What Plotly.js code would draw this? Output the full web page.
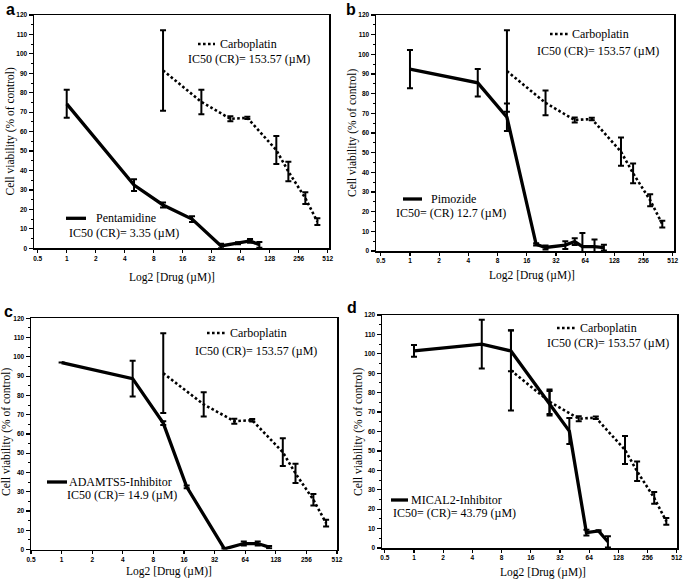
<!DOCTYPE html>
<html>
<head>
<meta charset="utf-8">
<script src="https://cdn.plot.ly/plotly-3.0.1.min.js"></script>
<style>html,body{margin:0;padding:0;background:#fff;}#chart{width:684px;height:579px;}</style>
</head>
<body>
<div id="chart"></div>
<script>
// ---------- data ----------
const xTickVals = [0.5, 1, 2, 4, 8, 16, 32, 64, 128, 256, 512];
const xTickText = ["0.5", "1", "2", "4", "8", "16", "32", "64", "128", "256", "512"];

const carboDose = [10, 25, 50, 75, 150, 200, 300, 400];
const carboViab = [91.5, 75.3, 66.6, 67.1, 50.5, 39.5, 25.8, 13.7];
const carboErr  = [20.7, 6.3, 1.3, 0.6, 7.2, 5.0, 3.0, 1.7];

const pentaDose = [1, 5, 10, 20, 40, 60, 80, 100];
const pentaViab = [74.3, 32.5, 22.3, 15.0, 1.2, 2.6, 3.8, 1.8];
const pentaErr  = [7.2, 3.0, 1.3, 1.5, 1.2, 0.5, 1.0, 1.5];

const pimoDose = [1, 5, 10, 20, 25, 40, 50, 60, 80, 100];
const pimoViab = [92.5, 85.5, 68.0, 3.4, 1.8, 3.0, 4.8, 2.2, 2.2, 1.7];
const pimoErr  = [9.7, 7.0, 7.0, 0.6, 1.0, 2.0, 1.7, 7.0, 3.7, 1.5];

const adamDose = [1, 5, 10, 17, 40, 62, 85, 110];
const adamViab = [97.0, 88.7, 65.6, 32.5, 0.3, 3.1, 3.1, 1.2];
const adamErr  = [0, 9.3, 1.0, 0.7, 0.3, 1.0, 1.0, 0.6];

const micalDose = [1, 5, 10, 25, 40, 60, 80, 100];
const micalViab = [101.5, 105.0, 101.5, 74.5, 60.2, 7.9, 8.8, 3.2];
const micalErr  = [3.0, 12.6, 10.5, 6.3, 6.7, 1.5, 0.3, 2.9];

const drugNames = ["Pentamidine", "Pimozide", "ADAMTS5-Inhibitor", "MICAL2-Inhibitor"];
const drugIC50  = ["IC50 (CR)= 3.35 (\u00b5M)", "IC50= (CR) 12.7 (\u00b5M)", "IC50 (CR)= 14.9 (\u00b5M)", "IC50= (CR)= 43.79 (\u00b5M)"];
const carboName = "Carboplatin";
const carboIC50 = "IC50 (CR)= 153.57 (\u00b5M)";
const panelLetters = ["a", "b", "c", "d"];
const yTitle = "Cell viability (% of control)";
const xTitle = "Log2 [Drug (\u00b5M)]";

// ---------- layout geometry (pixels) ----------
const W = 684, H = 579;
const px = v => v / W;
const py = v => 1 - v / H;
const L2 = Math.log10(2);

const panels = [
  {L:34,  R:329, T:15,    B:248.3, xr:[-1.128, 9.045],
   letter:[10,0], yt:[10,131.5], xt:[172,277],
   cs:[198,215,44], ct:[219,44], ci:[187,58.5],
   ds:[66,86,218.3], dt:[95,218.3], di:[68,233.3]},
  {L:376, R:674, T:15,    B:251,   xr:[-1.164, 9.045],
   letter:[351,0], yt:[352,133], xt:[532,276],
   cs:[550,569,34], ct:[571,34], ci:[536,51],
   ds:[403,422,199], dt:[430,199], di:[395,213]},
  {L:31,  R:337, T:318.3, B:549.5, xr:[-1.0, 9.0],
   letter:[8,302], yt:[6,432], xt:[169,571],
   cs:[207,226,333], ct:[229,333], ci:[194,351],
   ds:[47,67,482], dt:[68,482], di:[66,495]},
  {L:382, R:677, T:315,   B:548,   xr:[-1.096, 9.01],
   letter:[352,298], yt:[358,432], xt:[543,572],
   cs:[557,575,328], ct:[579,328], ci:[546,343],
   ds:[391,408,500], dt:[410,500], di:[392,513]}
];

const drugData = [
  [pentaDose, pentaViab, pentaErr],
  [pimoDose, pimoViab, pimoErr],
  [adamDose, adamViab, adamErr],
  [micalDose, micalViab, micalErr]
];

const traces = [];
const layout = {
  width: W, height: H,
  margin: {l:0, r:0, t:0, b:0},
  paper_bgcolor: "#ffffff", plot_bgcolor: "#ffffff",
  showlegend: false,
  annotations: [], shapes: []
};

const tickFont = {family: "Liberation Sans", size: 6.5, color: "#000", weight: "bold"};
const serif = "Liberation Serif";

panels.forEach((p, i) => {
  const sfx = i === 0 ? "" : String(i + 1);
  const xa = "x" + sfx, ya = "y" + sfx;
  layout["xaxis" + sfx] = {
    type: "log", domain: [px(p.L), px(p.R)], anchor: ya,
    range: [p.xr[0] * L2, p.xr[1] * L2],
    tickmode: "array", tickvals: xTickVals, ticktext: xTickText,
    ticks: "outside", ticklen: 3, tickwidth: 1.2, tickcolor: "#000",
    showline: true, linecolor: "#000", linewidth: 1.5, mirror: true,
    showgrid: false, zeroline: false, tickfont: tickFont, fixedrange: true
  };
  layout["yaxis" + sfx] = {
    domain: [py(p.B), py(p.T)], anchor: xa,
    range: [0, 120], tick0: 0, dtick: 10,
    ticks: "outside", ticklen: 4, tickwidth: 1.2, tickcolor: "#000",
    minor: {ticks: "outside", ticklen: 2, tick0: 0, dtick: 5, tickwidth: 1, tickcolor: "#000"},
    showline: true, linecolor: "#000", linewidth: 1.5, mirror: true,
    showgrid: false, zeroline: false, tickfont: tickFont, fixedrange: true
  };

  traces.push({
    x: carboDose, y: carboViab, xaxis: xa, yaxis: ya,
    mode: "lines", line: {color: "#000", width: 2.6, dash: "2.6px,2.4px"},
    error_y: {type: "data", array: carboErr, visible: true, color: "#000", thickness: 2, width: 3},
    hoverinfo: "skip"
  });
  const d = drugData[i];
  traces.push({
    x: d[0], y: d[1], xaxis: xa, yaxis: ya,
    mode: "lines", line: {color: "#000", width: 3.3},
    error_y: {type: "data", array: d[2], visible: true, color: "#000", thickness: 2, width: 3},
    hoverinfo: "skip"
  });

  const ann = (text, x, y, opts) => Object.assign({
    text: text, xref: "paper", yref: "paper", x: px(x), y: py(y),
    showarrow: false, xanchor: "left", yanchor: "middle",
    font: {family: serif, size: 12, color: "#000"}, borderpad: 0
  }, opts || {});

  layout.annotations.push(ann(panelLetters[i], p.letter[0], p.letter[1],
    {xanchor: "center", yanchor: "top", font: {family: "Liberation Sans", size: 16, color: "#000", weight: "bold"}}));
  layout.annotations.push(ann(yTitle, p.yt[0], p.yt[1],
    {xanchor: "center", textangle: -90, font: {family: serif, size: 11.5, color: "#000"}}));
  layout.annotations.push(ann(xTitle, p.xt[0], p.xt[1],
    {xanchor: "center", font: {family: serif, size: 11.5, color: "#000"}}));
  layout.annotations.push(ann(carboName, p.ct[0], p.ct[1]));
  layout.annotations.push(ann(carboIC50, p.ci[0], p.ci[1]));
  layout.annotations.push(ann(drugNames[i], p.dt[0], p.dt[1]));
  layout.annotations.push(ann(drugIC50[i], p.di[0], p.di[1]));

  layout.shapes.push({type: "line", xref: "paper", yref: "paper",
    x0: px(p.cs[0]), x1: px(p.cs[1]), y0: py(p.cs[2]), y1: py(p.cs[2]),
    line: {color: "#000", width: 2.6, dash: "2.6px,2.4px"}});
  layout.shapes.push({type: "line", xref: "paper", yref: "paper",
    x0: px(p.ds[0]), x1: px(p.ds[1]), y0: py(p.ds[2]), y1: py(p.ds[2]),
    line: {color: "#000", width: 3.3}});
});

Plotly.newPlot("chart", traces, layout, {staticPlot: true, displayModeBar: false});
</script>
</body>
</html>
